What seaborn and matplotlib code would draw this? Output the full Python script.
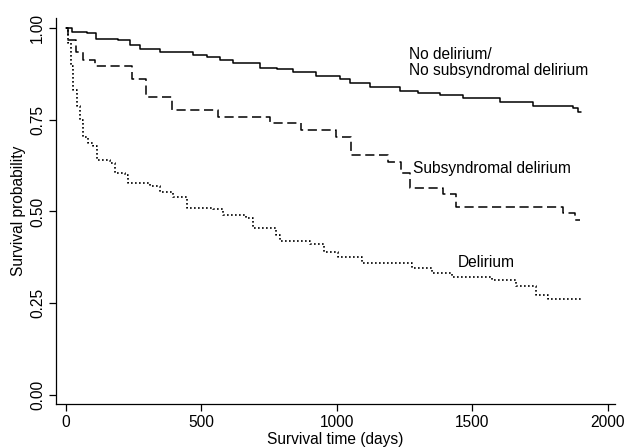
import pandas as pd
import seaborn as sns
import matplotlib
matplotlib.use('Agg')
import matplotlib.pyplot as plt

# Kaplan-Meier step points (day, survival after the drop)
none_days = [0, 21, 76, 110, 192, 236, 273, 347, 470, 519, 570, 616, 716, 780, 837,
             924, 1010, 1047, 1121, 1232, 1300, 1379, 1464, 1600, 1722, 1870, 1890, 1900]
none_surv = [1.0, 0.988, 0.985, 0.969, 0.967, 0.954, 0.942, 0.934, 0.925, 0.920,
             0.913, 0.904, 0.892, 0.887, 0.881, 0.869, 0.861, 0.849, 0.838, 0.829,
             0.823, 0.817, 0.808, 0.799, 0.787, 0.781, 0.772, 0.772]

sub_days = [0, 8, 37, 64, 107, 242, 297, 390, 562, 752, 869, 998, 1053, 1187,
            1238, 1268, 1390, 1440, 1833, 1877, 1895]
sub_surv = [1.0, 0.967, 0.933, 0.912, 0.896, 0.862, 0.811, 0.777, 0.758, 0.740,
            0.722, 0.704, 0.654, 0.634, 0.605, 0.563, 0.548, 0.511, 0.495, 0.477,
            0.477]

del_days = [0, 8, 17, 27, 39, 52, 64, 82, 101, 113, 162, 181, 218, 230, 310, 347,
            396, 445, 543, 579, 666, 691, 774, 789, 900, 951, 1003, 1091, 1276,
            1350, 1423, 1571, 1659, 1733, 1777, 1903]
del_surv = [1.0, 0.958, 0.895, 0.831, 0.786, 0.749, 0.704, 0.686, 0.677, 0.640,
            0.631, 0.604, 0.599, 0.578, 0.568, 0.554, 0.540, 0.509, 0.506, 0.490,
            0.481, 0.454, 0.436, 0.420, 0.411, 0.390, 0.377, 0.359, 0.345, 0.332,
            0.321, 0.313, 0.297, 0.272, 0.263, 0.263]

x_ticks = [0, 500, 1000, 1500, 2000]
y_ticks = [0.0, 0.25, 0.5, 0.75, 1.0]

sns.set_style('ticks')
plt.rcParams['font.family'] = ['Liberation Sans', 'DejaVu Sans']
plt.rcParams['text.color'] = 'black'
plt.rcParams['axes.labelcolor'] = 'black'
fs = 11.2

fig = plt.figure(figsize=(6.26, 4.48), dpi=100)
ax = fig.add_axes([0.089, 0.098, 0.893, 0.862])

sns.lineplot(x=none_days, y=none_surv, ax=ax, color='black', lw=1.1,
             drawstyle='steps-post', estimator=None, sort=False)
sns.lineplot(x=sub_days, y=sub_surv, ax=ax, color='black', lw=1.1,
             drawstyle='steps-post', estimator=None, sort=False,
             linestyle=(0, (6, 3)))
sns.lineplot(x=del_days, y=del_surv, ax=ax, color='black', lw=1.2,
             drawstyle='steps-post', estimator=None, sort=False,
             linestyle=(0, (1, 1.4)))

ax.text(1265, 0.905, 'No delirium/\nNo subsyndromal delirium', fontsize=fs,
        va='center', ha='left', linespacing=1.05)
ax.text(1280, 0.618, 'Subsyndromal delirium', fontsize=fs, va='center', ha='left')
ax.text(1445, 0.362, 'Delirium', fontsize=fs, va='center', ha='left')

ax.set_xlim(-38, 2025)
ax.set_ylim(-0.0245, 1.027)
ax.set_xticks(x_ticks)
ax.set_yticks(y_ticks)
ax.set_yticklabels(['0.00', '0.25', '0.50', '0.75', '1.00'], rotation=90, va='center')
ax.tick_params(length=5, width=0.9, labelsize=fs, color='black', labelcolor='black',
               pad=2.5)
ax.set_xlabel('Survival time (days)', fontsize=fs, labelpad=1.5)
ax.set_ylabel('Survival probability', fontsize=fs, labelpad=3)
for s in ['top', 'right']:
    ax.spines[s].set_visible(False)
for s in ['left', 'bottom']:
    ax.spines[s].set_linewidth(0.9)
    ax.spines[s].set_color('black')

fig.savefig('out.png', dpi=100)
